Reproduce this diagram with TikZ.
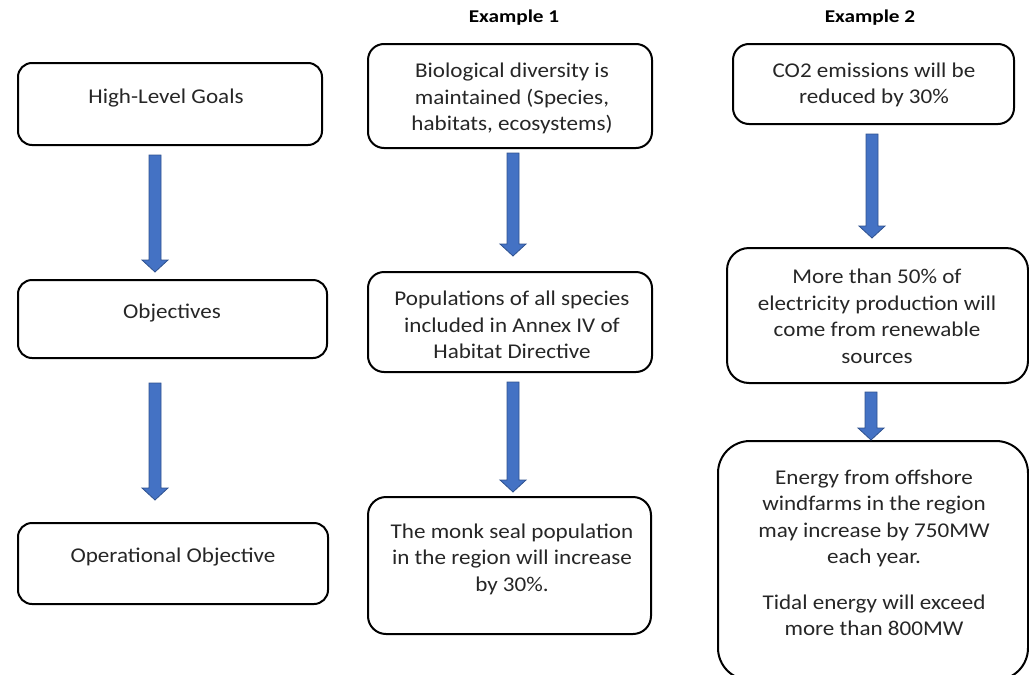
\documentclass[tikz,border=0pt]{standalone}
\usepackage{fontspec}
\setmainfont[FakeStretch=1.1]{Carlito}
\newfontfamily\hdrfont[FakeStretch=1.18]{Carlito}
\usetikzlibrary{calc}
\definecolor{arrfill}{HTML}{4472C4}
\definecolor{arrdraw}{HTML}{2F528F}
\definecolor{txtc}{HTML}{262626}
\tikzset{
  box/.style={draw=black, line width=2pt, rounded corners=#1},
  box/.default=14pt,
  txt/.style={align=center, text=txtc, font=\fontsize{21}{26.5}\selectfont, inner sep=0pt},
  hdr/.style={text=black, font=\hdrfont\bfseries\fontsize{18}{20}\selectfont, inner sep=0pt},
  arrowst/.style={fill=arrfill, draw=arrdraw, line width=0.8pt, line join=miter}
}
\newcommand{\blockarrow}[2]{%
  \draw[arrowst] let \p1=(#1), \p2=(#2) in
    (\x1-6pt,\y1) -- (\x1+6pt,\y1) -- (\x1+6pt,\y2+12pt) -- (\x1+13pt,\y2+12pt)
    -- (\x1,\y2) -- (\x1-13pt,\y2+12pt) -- (\x1-6pt,\y2+12pt) -- cycle;}
\begin{document}
\begin{tikzpicture}[x=1pt,y=-1pt]
\useasboundingbox (0,0) rectangle (1029,675);
% headers
\node[hdr] (h1) at (514,18) {Example 1};
\node[hdr] (h2) at (870,18) {Example 2};
% left column
\draw[box] (18,63) rectangle (322,145);
\node[txt] (hl) at (166,98.5) {High-Level Goals};
\draw[box] (18,280) rectangle (327,358);
\node[txt] (ob) at (172,313.5) {Objectives};
\draw[box] (18,523) rectangle (328,604);
\node[txt] (op) at (173,557.5) {Operational Objective};
% example 1
\draw[box=16pt] (368,44) rectangle (652,148);
\node[txt] (e1a) at (512,98.5) {Biological diversity is\\maintained (Species,\\habitats, ecosystems)};
\draw[box=16pt] (368,272) rectangle (652,372);
\node[txt] (e1b) at (512,325) {Populations of all species\\included in Annex IV of\\Habitat Directive};
\draw[box=18pt] (368,497) rectangle (651,634);
\node[txt] (e1c) at (512,559) {The monk seal population\\in the region will increase\\by 30\%.};
% example 2
\draw[box=16pt] (733,44) rectangle (1014,124);
\node[txt] (e2a) at (874,85) {CO2 emissions will be\\reduced by 30\%};
\draw[box=22pt] (727,248) rectangle (1028,383);
\node[txt] (e2b) at (877,316.5) {More than 50\% of\\electricity production will\\come from renewable\\sources};
\draw[box=32pt] (718,441) rectangle (1028,680);
\node[txt] (e2c) at (874,518.5) {Energy from offshore\\windfarms in the region\\may increase by 750MW\\each year.};
\node[txt] (e2d) at (874,615.5) {Tidal energy will exceed\\more than 800MW};
% arrows
\coordinate (a1s) at (155,155); \coordinate (a1e) at (155,272);
\coordinate (a2s) at (155,383); \coordinate (a2e) at (155,500);
\coordinate (a3s) at (513,153); \coordinate (a3e) at (513,256);
\coordinate (a4s) at (513,382); \coordinate (a4e) at (513,492);
\coordinate (a5s) at (872,134); \coordinate (a5e) at (872,238);
\coordinate (a6s) at (871,392); \coordinate (a6e) at (871,440);
\blockarrow{a1s}{a1e}
\blockarrow{a2s}{a2e}
\blockarrow{a3s}{a3e}
\blockarrow{a4s}{a4e}
\blockarrow{a5s}{a5e}
\blockarrow{a6s}{a6e}
\end{tikzpicture}
\end{document}
